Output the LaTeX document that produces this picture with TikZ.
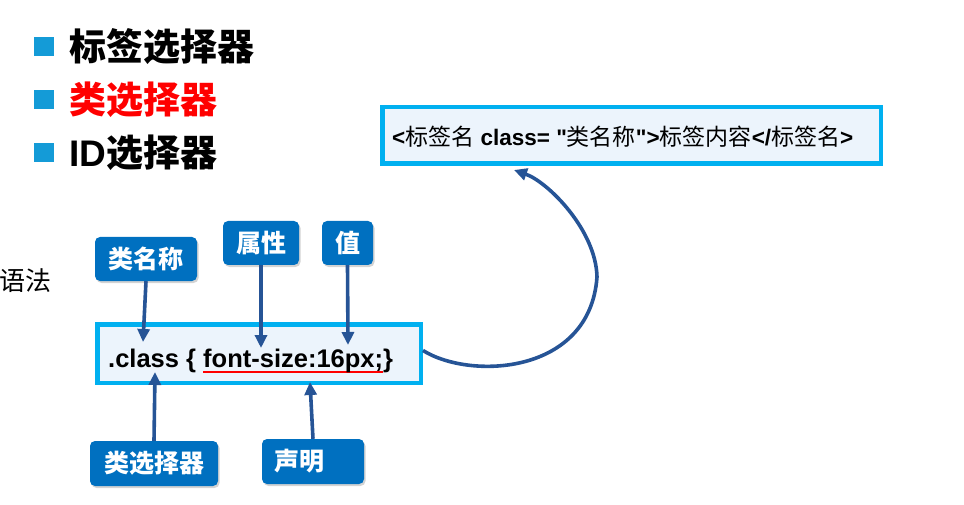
\documentclass[tikz,border=0pt]{standalone}
\usepackage{fontspec}
\setmainfont{Liberation Sans}[Ligatures=TeXOff]
\newfontfamily\cjk{Noto Sans CJK SC}
\usetikzlibrary{arrows.meta,shadows}
\definecolor{bulletc}{RGB}{20,155,215}
\definecolor{cyanb}{RGB}{0,176,240}
\definecolor{boxfill}{RGB}{236,244,252}
\definecolor{lblue}{RGB}{0,112,192}
\definecolor{arrc}{RGB}{38,84,150}
\newcommand\fs[1]{\fontsize{#1pt}{#1pt}\selectfont}
\newcommand\redul[1]{\setbox0\hbox{#1}\rlap{\color{red}\rule[-6pt]{\wd0}{2pt}}\box0}
\newcommand\cj[1]{{\cjk\mdseries\fs{23}#1}}
\begin{document}
\begin{tikzpicture}[x=1pt,y=-1pt,
  bsq/.style={fill=bulletc, minimum width=20pt, minimum height=19pt, inner sep=0pt},
  ttl/.style={anchor=west, inner sep=0pt, font=\cjk\bfseries\fs{37}},
  codebox/.style={draw=cyanb, line width=4.5pt, fill=boxfill, inner sep=0pt},
  lbl/.style={fill=lblue, rounded corners=5pt, text=white, inner sep=0pt,
    drop shadow={opacity=0.35, shadow xshift=1.5pt, shadow yshift=-2pt},
    font=\cjk\bfseries\fs{25}},
  arrow/.style={draw=arrc, line width=3.6pt, -{Triangle[length=13pt,width=12pt]}}
]
\useasboundingbox (0,0) rectangle (964,505);

% title list
\node[bsq] (b1) at (44,47) {};
\node[bsq] (b2) at (44,100) {};
\node[bsq] (b3) at (44,153) {};
\node[ttl] (t1) at (69,47) {标签选择器};
\node[ttl, text=red] (t2) at (69,100) {类选择器};
\node[ttl] (t3) at (69,153) {{\fontspec{Liberation Sans}\bfseries ID}选择器};

% syntax label
\node[anchor=west, inner sep=0pt] (yufa) at (-1,281) {\cjk\fs{26}语法};

% tag box
\node[codebox, minimum width=498.5pt, minimum height=56.5pt] (tagbox) at (631.5,135.5) {};
\node[anchor=base west, inner sep=0pt] (tagtext) at (392,146)
  {\fs{22.5}\bfseries <\cj{标签名} class= "\cj{类名称}">\cj{标签内容}</\cj{标签名}>};

% code box
\node[codebox, minimum width=323.5pt, minimum height=58.5pt] (code) at (259,353.5) {};
\node[anchor=base west, inner sep=0pt] (codetext) at (108,367)
  {\fs{25.5}\bfseries .class \{ \redul{font-size:16px;}\}};

% label boxes
\node[lbl, minimum width=102pt, minimum height=44pt] (lname) at (146,259) {类名称};
\node[lbl, minimum width=76pt, minimum height=44pt] (lattr) at (261,243) {属性};
\node[lbl, minimum width=51pt, minimum height=44pt] (lval) at (347.5,243) {值};
\node[lbl, minimum width=128pt, minimum height=45pt] (lsel) at (154,463.5) {类选择器};
\node[lbl, minimum width=102pt, minimum height=45pt, text width=78pt, inner xsep=12pt, align=left] (lstmt) at (313,461.5) {声明};

% arrow ends
\coordinate (e1) at (143,342);
\coordinate (e2) at (261,348);
\coordinate (e3) at (348,345);
\coordinate (e4) at (155,372);
\coordinate (e5) at (310,382);
\coordinate (e6) at (514,170);

\draw[arrow] (lname.south) -- (e1);
\draw[arrow] (lattr.south) -- (e2);
\draw[arrow] (lval.south) -- (e3);
\draw[arrow] (lsel.north) -- (e4);
\draw[arrow] (lstmt.north) -- (e5);
\draw[arrow] ([yshift=3pt]code.east) .. controls (470,380) and (590,375) .. (597,277)
  .. controls (596,230) and (548,182) .. (e6);
\end{tikzpicture}
\end{document}
